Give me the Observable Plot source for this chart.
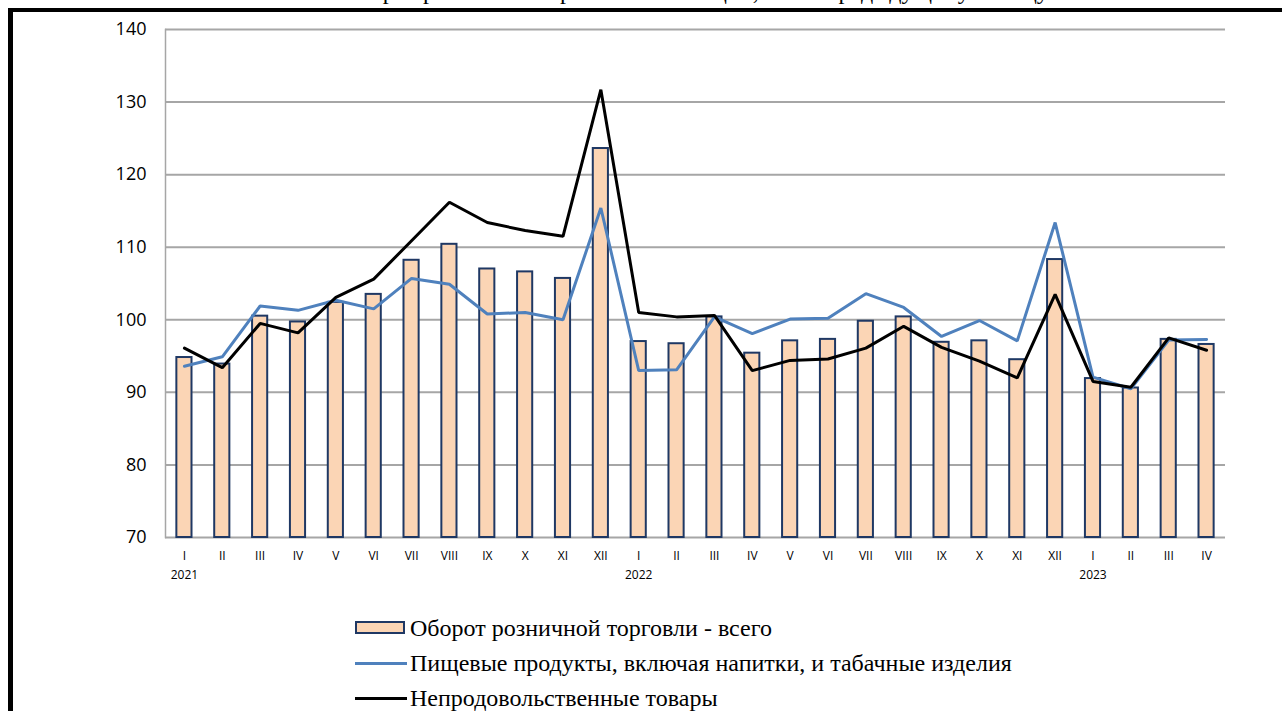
<!DOCTYPE html>
<html>
<head>
<meta charset="utf-8">
<script src="https://cdn.jsdelivr.net/npm/d3@7"></script>
<script src="https://cdn.jsdelivr.net/npm/@observablehq/plot@0.6"></script>
<style>
  html, body { margin: 0; padding: 0; background: #fff; }
  #wrap { position: relative; width: 1282px; height: 711px; overflow: hidden; background: #fff; }
  #title { position: absolute; left: 0; width: 1390px; top: -21px; height: 30px; line-height: 24px; text-align: center;
           font-family: "Liberation Serif", serif; font-size: 24px; color: #000; white-space: nowrap; }
  .frameTop { position: absolute; left: 8px; top: 8px; width: 1274px; height: 4px; background: #000; }
  .frameLeft { position: absolute; left: 8px; top: 8px; width: 5px; height: 703px; background: #000; }
  #chart { position: absolute; left: 0; top: 0; }
  #legend { position: absolute; left: 355px; top: 611px; font-family: "Liberation Serif", serif; font-size: 24px; color: #000; }
  .item { position: relative; height: 35px; line-height: 34px; padding-left: 55px; white-space: nowrap; }
  .sw-bar { position: absolute; left: 0; top: 10px; width: 50px; height: 13px; background: #fbd5b5; border: 2px solid #1f3864; box-sizing: border-box; }
  .sw-line { position: absolute; left: 0; top: 16px; width: 52px; height: 3px; }
</style>
</head>
<body>
<div id="wrap">
  <div id="title">Оборот розничной торговли по месяцам, в % к предыдущему месяцу</div>
  <div class="frameTop"></div>
  <div class="frameLeft"></div>
  <div id="chart"></div>
  <div id="legend"></div>
</div>
<script>
const months = ["I","II","III","IV","V","VI","VII","VIII","IX","X","XI","XII",
                "I","II","III","IV","V","VI","VII","VIII","IX","X","XI","XII",
                "I","II","III","IV"];
const yearLabels = [{i: 0, label: "2021"}, {i: 12, label: "2022"}, {i: 24, label: "2023"}];
const seriesNames = ["Оборот розничной торговли - всего",
                     "Пищевые продукты, включая напитки, и табачные изделия",
                     "Непродовольственные товары"];
const total   = [94.8, 93.9, 100.5, 99.7, 102.4, 103.5, 108.2, 110.4, 107.0, 106.6, 105.7, 123.6,
                 97.0, 96.7, 100.4, 95.4, 97.1, 97.3, 99.8, 100.4, 96.9, 97.1, 94.5, 108.3,
                 91.9, 90.6, 97.3, 96.6];
const food    = [93.6, 94.9, 101.9, 101.3, 102.7, 101.5, 105.7, 104.9, 100.8, 101.0, 100.0, 115.4,
                 93.0, 93.1, 100.4, 98.1, 100.1, 100.2, 103.6, 101.7, 97.7, 99.9, 97.1, 113.4,
                 92.1, 90.5, 97.2, 97.3];
const nonfood = [96.1, 93.4, 99.5, 98.2, 103.1, 105.6, 110.9, 116.2, 113.4, 112.3, 111.5, 131.7,
                 101.0, 100.4, 100.6, 93.0, 94.4, 94.6, 96.1, 99.1, 96.2, 94.3, 92.0, 103.5,
                 91.5, 90.7, 97.5, 95.8];
const yTicks = [70, 80, 90, 100, 110, 120, 130, 140];

const colors = {bar: "#fbd5b5", barStroke: "#1f3864", food: "#4f81bd", nonfood: "#000000", grid: "#a6a6a6"};

const idx = d3.range(months.length);
const rows = idx.map(i => ({i, total: total[i], food: food[i], nonfood: nonfood[i]}));

const chart = Plot.plot({
  width: 1282,
  height: 600,
  marginTop: 29,
  marginLeft: 165,
  marginRight: 57,
  marginBottom: 63,
  style: {fontFamily: "'Open Sans', sans-serif", background: "transparent", overflow: "visible"},
  x: {type: "band", domain: idx, paddingInner: 0.6, paddingOuter: 0.3, round: false},
  y: {domain: [70, 140]},
  marks: [
    Plot.ruleY(yTicks, {stroke: colors.grid, strokeWidth: 2}),
    Plot.frame({anchor: "left", stroke: colors.grid, strokeWidth: 1.5}),
    Plot.barY(rows, {x: "i", y1: 70, y2: "total", fill: colors.bar, stroke: colors.barStroke, strokeWidth: 2}),
    Plot.line(rows, {x: "i", y: "food", stroke: colors.food, strokeWidth: 3, strokeLinejoin: "miter"}),
    Plot.line(rows, {x: "i", y: "nonfood", stroke: colors.nonfood, strokeWidth: 3, strokeLinejoin: "miter"}),
    Plot.axisY({ticks: yTicks, tickSize: 0, tickPadding: 19, fontSize: 18, label: null, fill: "#000"}),
    Plot.axisX({tickSize: 0, tickPadding: 14, fontSize: 12, label: null, tickFormat: i => months[i], fill: "#000"}),
    Plot.text(yearLabels, {x: "i", y: 70, text: "label", dy: 38, fontSize: 12, fill: "#000"})
  ]
});
document.getElementById("chart").appendChild(chart);

const legend = document.getElementById("legend");
const swatches = [
  '<span class="sw-bar"></span>',
  '<span class="sw-line" style="background:' + colors.food + '"></span>',
  '<span class="sw-line" style="background:' + colors.nonfood + '"></span>'
];
seriesNames.forEach((name, k) => {
  const d = document.createElement("div");
  d.className = "item";
  d.innerHTML = swatches[k] + name;
  legend.appendChild(d);
});
</script>
</body>
</html>
